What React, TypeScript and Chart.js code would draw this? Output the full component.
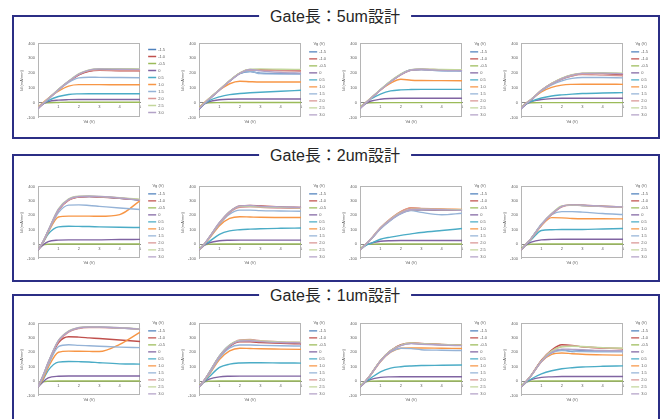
import React, { useEffect, useRef } from "react";
import { Chart, registerables } from "chart.js";
Chart.register(...registerables);

// ---------- data ----------
const vd = [0, 0.25, 0.5, 1, 1.5, 2, 2.5, 3, 4, 5];
const vgLabels = ["-1.5", "-1.0", "-0.5", "0", "0.5", "1.0", "1.5", "2.0", "2.5", "3.0"];
const seriesColors = ["#4F81BD", "#C0504D", "#9BBB59", "#8064A2", "#4BACC6", "#F79646", "#95B3D7", "#D99694", "#C3D69B", "#B3A2C7"];
const yTickMin = -100;
const yTickMax = 400;
const xTickMax = 5;
const panelTitles = ["Gate長：5um設計", "Gate長：2um設計", "Gate長：1um設計"];
const legendTitle = "Vg (V)";
const xTitle = "Vd (V)";
const yTitle = "Id (mA/mm)";

// 5um design
const g5a = [
  [-35, -5, 25, 90, 145, 190, 215, 222, 222, 220],
  [-38, -6, 24, 88, 142, 188, 212, 218, 216, 215],
  [-30, -6, 0, 2, 3, 3, 3, 3, 3, 3],
  [-40, -8, 8, 18, 21, 22, 22, 22, 22, 22],
  [-35, -5, 15, 42, 56, 60, 61, 61, 61, 61],
  [-30, 2, 30, 78, 112, 122, 122, 122, 121, 121],
  [-35, -3, 27, 85, 138, 168, 172, 171, 170, 169],
  [-36, -4, 26, 88, 143, 192, 216, 220, 217, 216],
  [-35, -4, 27, 90, 146, 196, 222, 230, 230, 228],
  [-38, -5, 25, 88, 144, 193, 220, 228, 226, 225],
];
const g5b = [
  [-40, -6, 24, 86, 145, 196, 210, 200, 198, 196],
  [-40, -6, 25, 88, 148, 200, 222, 222, 220, 220],
  [-30, -6, 0, 1, 2, 2, 2, 2, 2, 2],
  [-45, -10, 8, 20, 24, 25, 25, 25, 25, 25],
  [-40, -8, 15, 40, 55, 62, 67, 71, 78, 84],
  [-35, 0, 30, 85, 128, 145, 142, 140, 140, 140],
  [-38, -4, 28, 88, 148, 198, 212, 196, 194, 194],
  [-36, -4, 27, 87, 148, 200, 222, 220, 215, 212],
  [-36, -4, 28, 88, 150, 202, 226, 228, 226, 225],
  [-40, -6, 25, 85, 146, 198, 224, 215, 205, 200],
];
const g5c = [
  [-35, -4, 26, 88, 145, 192, 222, 225, 218, 216],
  [-36, -5, 25, 86, 142, 190, 220, 224, 220, 220],
  [-28, -5, 0, 1, 1, 1, 1, 1, 1, 1],
  [-40, -8, 10, 24, 29, 30, 30, 30, 30, 30],
  [-35, -4, 22, 58, 80, 87, 89, 90, 90, 90],
  [-34, -2, 28, 86, 132, 158, 152, 150, 149, 148],
  [-36, -4, 27, 88, 144, 190, 218, 222, 214, 213],
  [-36, -4, 26, 87, 143, 190, 220, 226, 222, 220],
  [-35, -3, 27, 89, 146, 194, 223, 228, 224, 222],
  [-38, -5, 25, 86, 142, 190, 221, 226, 218, 216],
];
const g5d = [
  [-38, -6, 18, 82, 126, 160, 182, 195, 198, 192],
  [-38, -6, 20, 84, 130, 165, 188, 198, 196, 190],
  [-30, -6, 0, 1, 1, 1, 1, 1, 1, 1],
  [-42, -10, 8, 22, 28, 30, 30, 30, 30, 30],
  [-38, -8, 10, 32, 46, 53, 58, 62, 66, 68],
  [-35, -2, 24, 74, 104, 119, 124, 125, 125, 124],
  [-36, -4, 24, 80, 120, 148, 164, 170, 170, 168],
  [-36, -4, 22, 84, 127, 160, 180, 190, 186, 182],
  [-35, -3, 22, 86, 131, 166, 189, 200, 202, 200],
  [-38, -5, 20, 84, 128, 163, 186, 198, 200, 195],
];

// 2um design
const g2a = [
  [-40, 18, 92, 238, 308, 328, 330, 328, 318, 305],
  [-40, 18, 90, 235, 305, 326, 329, 327, 318, 306],
  [-30, -5, 0, 1, 1, 1, 1, 1, 1, 1],
  [-42, -5, 18, 28, 30, 30, 30, 30, 32, 33],
  [-40, 10, 70, 120, 124, 123, 122, 120, 117, 115],
  [-40, 12, 82, 188, 194, 194, 194, 193, 205, 302],
  [-40, 14, 86, 218, 270, 272, 268, 262, 250, 240],
  [-40, 17, 90, 234, 304, 328, 331, 329, 320, 308],
  [-40, 20, 95, 244, 314, 332, 333, 330, 322, 310],
  [-40, 20, 94, 240, 310, 330, 332, 330, 320, 305],
];
const g2b = [
  [-40, -2, 45, 145, 222, 262, 266, 262, 256, 252],
  [-40, -2, 46, 146, 224, 265, 268, 264, 258, 255],
  [-30, -5, 0, 1, 1, 1, 1, 1, 1, 1],
  [-42, -8, 10, 24, 27, 28, 28, 28, 28, 28],
  [-40, -6, 18, 68, 92, 100, 104, 107, 110, 112],
  [-40, -3, 38, 128, 178, 190, 188, 186, 185, 185],
  [-40, -2, 42, 138, 208, 236, 236, 232, 230, 228],
  [-40, -2, 44, 142, 218, 255, 258, 255, 250, 248],
  [-40, 0, 48, 148, 226, 262, 262, 258, 255, 252],
  [-40, 0, 48, 150, 225, 265, 268, 262, 258, 255],
];
const g2c = [
  [-40, -6, 28, 108, 168, 214, 236, 238, 236, 234],
  [-40, -6, 29, 110, 170, 216, 238, 240, 238, 236],
  [-30, -6, 0, 1, 1, 1, 1, 1, 1, 1],
  [-42, -10, 6, 20, 24, 25, 25, 25, 25, 25],
  [-40, -12, 4, 34, 49, 61, 71, 81, 95, 108],
  [-40, -4, 30, 110, 175, 225, 252, 246, 244, 240],
  [-40, -5, 28, 105, 165, 210, 232, 220, 204, 214],
  [-40, -5, 32, 115, 178, 226, 250, 248, 242, 238],
  [-40, -5, 30, 112, 172, 218, 240, 242, 240, 238],
  [-40, -5, 30, 110, 170, 215, 238, 240, 238, 235],
];
const g2d = [
  [-40, 0, 40, 134, 208, 260, 270, 268, 262, 257],
  [-40, 0, 40, 135, 210, 262, 272, 270, 263, 258],
  [-30, -5, 0, 1, 1, 1, 1, 1, 1, 1],
  [-42, -6, 14, 30, 33, 34, 34, 34, 34, 34],
  [-40, -2, 30, 95, 100, 102, 102, 102, 105, 108],
  [-40, 0, 38, 128, 184, 182, 178, 176, 176, 175],
  [-40, 0, 40, 140, 205, 225, 225, 222, 212, 205],
  [-40, 0, 38, 130, 205, 258, 270, 268, 260, 256],
  [-40, 0, 40, 135, 212, 265, 270, 268, 262, 258],
  [-40, 0, 40, 135, 210, 262, 272, 270, 262, 258],
];

// 1um design
const g1a = [
  [-40, 38, 128, 278, 344, 368, 374, 374, 368, 360],
  [-40, 35, 120, 265, 308, 305, 300, 295, 285, 275],
  [-30, -5, 0, 1, 1, 1, 1, 1, 1, 1],
  [-42, -4, 22, 34, 36, 36, 36, 36, 36, 36],
  [-40, 10, 75, 132, 136, 135, 133, 128, 120, 118],
  [-40, 15, 95, 200, 208, 207, 206, 205, 255, 340],
  [-40, 30, 110, 240, 252, 248, 245, 242, 236, 232],
  [-40, 38, 125, 275, 340, 365, 372, 372, 368, 360],
  [-40, 40, 130, 282, 348, 372, 378, 376, 370, 362],
  [-40, 40, 130, 280, 345, 370, 375, 375, 370, 360],
];
const g1b = [
  [-40, 5, 60, 175, 250, 280, 285, 275, 268, 265],
  [-40, 5, 58, 170, 240, 272, 272, 268, 262, 258],
  [-30, -5, 0, 1, 1, 1, 1, 1, 1, 1],
  [-42, -6, 14, 30, 34, 35, 35, 35, 35, 35],
  [-40, -3, 30, 95, 118, 126, 128, 128, 126, 125],
  [-40, 0, 45, 150, 210, 228, 226, 224, 222, 220],
  [-40, 2, 50, 160, 230, 250, 250, 248, 245, 243],
  [-40, 5, 58, 172, 248, 285, 288, 280, 272, 268],
  [-40, 5, 60, 175, 250, 282, 284, 278, 272, 270],
  [-40, 5, 58, 172, 245, 278, 280, 274, 268, 265],
];
const g1c = [
  [-40, -3, 40, 140, 210, 250, 262, 258, 252, 250],
  [-40, -3, 42, 142, 212, 252, 265, 262, 255, 252],
  [-30, -5, 0, 1, 1, 1, 1, 1, 1, 1],
  [-42, -8, 10, 26, 30, 31, 31, 31, 31, 31],
  [-40, -6, 18, 65, 90, 100, 105, 108, 110, 112],
  [-40, -2, 38, 135, 200, 228, 230, 230, 228, 226],
  [-40, -2, 40, 138, 202, 228, 225, 218, 214, 212],
  [-40, -2, 40, 140, 210, 248, 262, 258, 252, 248],
  [-40, -2, 42, 142, 212, 250, 264, 260, 254, 250],
  [-40, -3, 40, 138, 208, 246, 260, 256, 250, 246],
];
const g1d = [
  [-40, -2, 40, 140, 200, 218, 205, 212, 210, 208],
  [-40, -2, 42, 145, 215, 252, 248, 238, 230, 224],
  [-30, -5, 0, 1, 1, 1, 1, 1, 1, 1],
  [-42, -8, 10, 26, 30, 32, 32, 32, 32, 32],
  [-40, -8, 15, 50, 72, 86, 93, 98, 103, 106],
  [-40, -2, 38, 135, 185, 195, 190, 186, 182, 180],
  [-40, -2, 40, 138, 195, 212, 208, 205, 204, 204],
  [-40, -2, 40, 140, 210, 240, 244, 238, 230, 226],
  [-40, -2, 40, 140, 208, 238, 242, 240, 232, 228],
  [-40, -2, 38, 136, 200, 222, 220, 218, 212, 210],
];

const panelCharts = [
  [g5a, g5b, g5c, g5d],
  [g2a, g2b, g2c, g2d],
  [g1a, g1b, g1c, g1d],
];

// ---------- layout ----------
const panelBoxes = [
  { top: 15, height: 124 },
  { top: 154, height: 128 },
  { top: 294, height: 140 },
];
const plotTops = [40, 183, 320];
const plotHeights = [77, 75, 75];

const FONT = "'Liberation Sans', Arial, sans-serif";
const TXT = "#606060";

const framePlugin = {
  id: "frame",
  beforeDatasetsDraw(chart: any) {
    const { left, top, right, bottom } = chart.chartArea;
    const ctx = chart.ctx;
    ctx.save();
    ctx.strokeStyle = "#b5b5b5";
    ctx.lineWidth = 1;
    ctx.strokeRect(Math.round(left) + 0.5, Math.round(top) + 0.5, Math.round(right - left) - 1, Math.round(bottom - top) - 1);
    ctx.restore();
  },
};

function MiniChart(props: { series: number[][]; left: number; top: number; height: number; showTitle: boolean }) {
  const ref = useRef<HTMLCanvasElement>(null);
  useEffect(() => {
    if (!ref.current) return;
    const f = { size: 4, family: FONT };
    const chart = new Chart(ref.current, {
      type: "line",
      data: {
        datasets: props.series.map((ys, i) => ({
          label: vgLabels[i],
          data: vd.map((x, j) => ({ x, y: ys[j] })),
          borderColor: seriesColors[i],
          backgroundColor: seriesColors[i],
          borderWidth: 1.4,
          pointRadius: 0,
          cubicInterpolationMode: "monotone",
          order: 9 - i,
        })),
      },
      options: {
        animation: false,
        responsive: false,
        maintainAspectRatio: false,
        layout: { padding: 0 },
        plugins: {
          legend: {
            position: "right",
            align: "center",
            labels: {
              usePointStyle: true,
              pointStyle: "line",
              pointStyleWidth: 8,
              font: f,
              color: TXT,
              padding: 3,
              sort: (a: any, b: any) => a.datasetIndex - b.datasetIndex,
            },
            title: { display: props.showTitle, text: legendTitle, font: f, color: TXT },
          },
          tooltip: { enabled: false },
        },
        scales: {
          x: {
            type: "linear",
            position: { y: 0 },
            min: 0,
            max: xTickMax,
            ticks: { stepSize: 1, font: f, color: TXT, padding: 2, maxRotation: 0, callback: (v: any) => (v === 0 ? "" : String(v)) },
            grid: { display: false, drawTicks: false },
            border: { color: "#8a8a8a", width: 1 },
          },
          x2: {
            type: "linear",
            position: "bottom",
            min: 0,
            max: xTickMax,
            ticks: { display: false },
            grid: { display: false, drawTicks: false },
            border: { display: false },
            title: { display: true, text: xTitle, font: f, color: TXT, padding: { top: 1.6, bottom: 0 } },
          },
          y: {
            type: "linear",
            min: yTickMin,
            max: yTickMax,
            ticks: { stepSize: 100, font: f, color: TXT, padding: 3 },
            grid: { display: false, drawTicks: false },
            border: { color: "#b5b5b5" },
            title: { display: true, text: yTitle, font: f, color: TXT, padding: { top: 3, bottom: 0 } },
            afterFit: (s: any) => {
              s.width = 22;
            },
          },
          yr: {
            type: "linear",
            position: "right",
            min: 0,
            max: 1,
            ticks: { display: false },
            grid: { display: false, drawTicks: false },
            border: { display: false },
            afterFit: (s: any) => {
              s.width = 5;
            },
          },
        },
      } as any,
      plugins: [framePlugin],
    });
    return () => chart.destroy();
  }, []);
  return (
    <canvas
      ref={ref}
      width={155}
      height={props.height}
      style={{ position: "absolute", left: props.left, top: props.top, width: 155, height: props.height }}
    />
  );
}

export default function App() {
  return (
    <div style={{ position: "fixed", left: 0, top: 0, width: 668, height: 419, background: "#fff", overflow: "hidden" }}>
      {panelBoxes.map((p, pi) => (
        <div
          key={"p" + pi}
          style={{
            position: "absolute",
            left: 12,
            top: p.top,
            width: 648,
            height: p.height,
            boxSizing: "border-box",
            border: "2px solid #2B2E85",
          }}
        />
      ))}
      {panelBoxes.map((p, pi) => (
        <div
          key={"t" + pi}
          style={{
            position: "absolute",
            left: 335,
            top: p.top + 1,
            transform: "translate(-50%, -50%)",
            background: "#fff",
            padding: "0 11px",
            fontFamily: "'Liberation Sans', 'Noto Sans CJK JP', sans-serif",
            fontSize: 16,
            color: "#262626",
            whiteSpace: "nowrap",
            lineHeight: "19px",
          }}
        >
          {panelTitles[pi]}
        </div>
      ))}
      {panelCharts.map((charts, pi) =>
        charts.map((series, ci) => (
          <MiniChart
            key={pi + "-" + ci}
            series={series}
            left={16 + 161 * ci}
            top={plotTops[pi] - 2}
            height={plotHeights[pi] + 9}
            showTitle={!(pi === 0 && ci === 0)}
          />
        ))
      )}
    </div>
  );
}
